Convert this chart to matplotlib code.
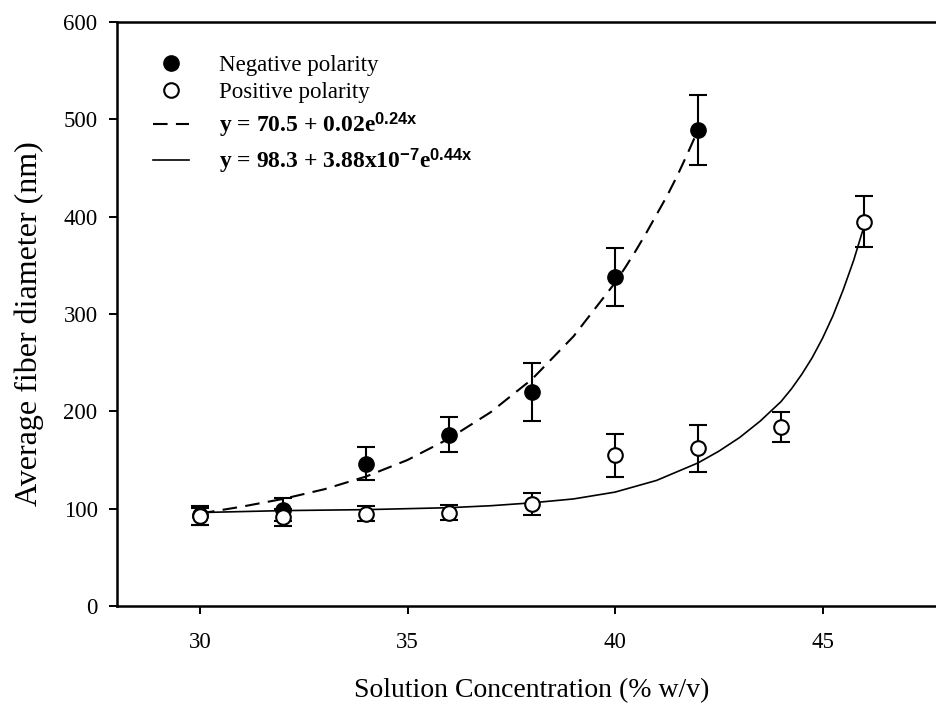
import matplotlib
matplotlib.use("Agg")
import matplotlib.pyplot as plt
from matplotlib.lines import Line2D

params = {
    "font.family": "serif",
    "font.serif": ["Liberation Serif", "DejaVu Serif"],
    "mathtext.fontset": "custom",
    "mathtext.rm": "Liberation Serif",
    "mathtext.it": "Liberation Serif:italic",
    "mathtext.bf": "Liberation Sans:bold",
    "font.size": 16.5,
    "axes.linewidth": 1.8,
    "xtick.major.size": 6,
    "ytick.major.size": 6,
    "xtick.major.width": 1.4,
    "ytick.major.width": 1.4,
    "xtick.direction": "out",
    "ytick.direction": "out",
}
plt.rcParams.update(params)

# measured points
conc_neg = [30, 32, 34, 36, 38, 40, 42]
diam_neg = [93, 99, 146, 176, 220, 338, 489]
err_neg = [10, 12, 17, 18, 30, 30, 36]

conc_pos = [30, 32, 34, 36, 38, 40, 42, 44, 46]
diam_pos = [92, 91, 95, 96, 105, 155, 162, 184, 395]
err_pos = [9, 9, 8, 8, 11, 22, 24, 15, 26]

# fitted curves
fit_neg_x = [30, 31, 32, 33, 34, 35, 36, 37, 38, 39, 40, 40.25, 40.5, 40.75,
             41, 41.25, 41.5, 41.75, 42]
fit_neg_y = [95, 102, 110, 120, 133, 150, 172, 199, 233, 277, 332, 348, 365, 383,
             402, 421, 442, 465, 489]

fit_pos_x = [30, 31, 32, 33, 34, 35, 36, 37, 38, 39, 40, 41, 42, 42.5, 43,
             43.5, 44, 44.25, 44.5, 44.75, 45, 45.25, 45.5, 45.75, 46]
fit_pos_y = [96, 97, 98, 98.5, 99, 100, 101, 103, 106, 110, 117, 129, 147, 159, 173,
             190, 210, 223, 238, 255, 275, 298, 325, 355, 390]

labels = ["Negative polarity", "Positive polarity",
          r"y = 70.5 + 0.02e$^{\mathbf{0.24x}}$",
          r"y = 98.3 + 3.88x10$^{\mathbf{-7}}$e$^{\mathbf{0.44x}}$"]

fig = plt.figure(figsize=(9.37, 7.04), dpi=100)
ax = fig.add_axes([117 / 937, 98 / 704, 830 / 937, 584 / 704])

ax.plot(fit_neg_x, fit_neg_y, color="black", lw=1.5, dashes=(7, 4), zorder=2)
ax.plot(fit_pos_x, fit_pos_y, color="black", lw=1.2, zorder=2)

ax.errorbar(conc_neg, diam_neg, yerr=err_neg, fmt="o", color="black",
            ms=11, capsize=6.5, elinewidth=1.5, capthick=1.5, zorder=3)
ax.errorbar(conc_pos, diam_pos, yerr=err_pos, fmt="o", color="black",
            mfc="white", mec="black", mew=1.5, ms=10.5,
            capsize=6.5, elinewidth=1.5, capthick=1.5, zorder=4)

handles = [
    Line2D([], [], ls="none", marker="o", color="black", ms=11),
    Line2D([], [], ls="none", marker="o", mfc="white", mec="black", mew=1.5, ms=10.5),
    Line2D([], [], color="black", lw=1.5, dashes=(7, 4)),
    Line2D([], [], color="black", lw=1.2),
]
leg = ax.legend(handles, labels, loc="upper left", bbox_to_anchor=(0.032, 0.96),
                frameon=False, handlelength=1.6, handletextpad=1.3,
                labelspacing=0.3, borderaxespad=0, fontsize=16.5)
for t in leg.get_texts()[2:]:
    t.set_fontsize(17)
    t.set_fontweight("bold")

ax.set_xlim(28, 48)
ax.set_ylim(0, 600)
ax.set_xticks([30, 35, 40, 45])
ax.set_yticks(range(0, 601, 100))
ax.tick_params(axis="x", pad=13, labelsize=16.5, top=False)
ax.tick_params(axis="y", pad=8, labelsize=16.5, right=False)

ax.set_xlabel("Solution Concentration (% w/v)", fontsize=20, labelpad=18)
ax.set_ylabel("Average fiber diameter (nm)", fontsize=23)
ax.yaxis.set_label_coords(-0.088, 0.483)

fig.savefig("out.png", dpi=100)
